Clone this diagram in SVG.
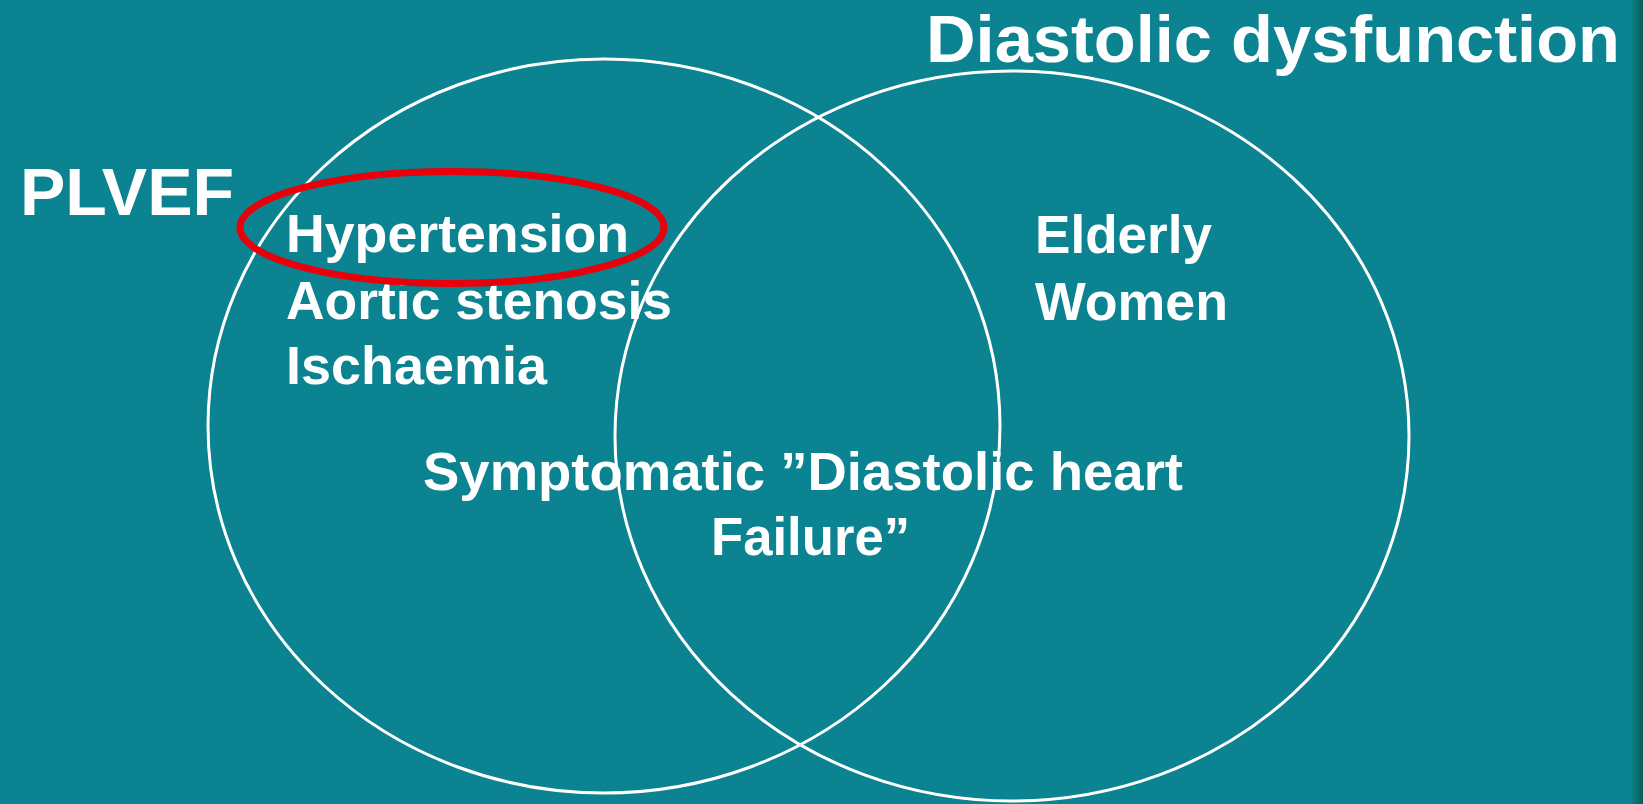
<svg xmlns="http://www.w3.org/2000/svg" width="1643" height="804" viewBox="0 0 1643 804">
<defs>
<pattern id="dither" width="8" height="8" patternUnits="userSpaceOnUse">
<rect width="8" height="8" fill="#07878a"/>
<path d="M0 0 L4 4 L0 8 M8 0 L4 4 L8 8" stroke="#1678a6" stroke-width="1.2" fill="none" opacity="0.7"/>
</pattern>
<linearGradient id="edge" x1="0" x2="1" y1="0" y2="0">
<stop offset="0" stop-color="#0a7f80"/>
<stop offset="1" stop-color="#0a5a5c"/>
</linearGradient>
</defs>
<style>
.bg{fill:url(#dither)}
.set{fill:none;stroke:#ffffff;stroke-width:3}
.mark{fill:none;stroke:#e8000a;stroke-width:7}
.t{font-family:"Liberation Sans",Arial,Helvetica,sans-serif;font-weight:bold;fill:#ffffff}
.title{font-size:66px}
.item{font-size:54px}
</style>
<rect class="bg" x="0" y="0" width="1643" height="804"/>
<rect x="1632" y="0" width="11" height="804" fill="url(#edge)"/>
<g id="set-plvef">
<ellipse class="set" cx="604" cy="426" rx="396" ry="367"/>
<text class="t title" x="20" y="215" textLength="214" lengthAdjust="spacingAndGlyphs">PLVEF</text>
</g>
<g id="set-diastolic">
<ellipse class="set" cx="1012" cy="436" rx="397" ry="365"/>
<text class="t title" x="926" y="62" textLength="694" lengthAdjust="spacingAndGlyphs">Diastolic dysfunction</text>
</g>
<g id="plvef-items">
<text class="t item" x="286" y="252" textLength="343" lengthAdjust="spacingAndGlyphs">Hypertension</text>
<text class="t item" x="286" y="319" textLength="386" lengthAdjust="spacingAndGlyphs">Aortic stenosis</text>
<text class="t item" x="286" y="384" textLength="261" lengthAdjust="spacingAndGlyphs">Ischaemia</text>
</g>
<g id="diastolic-items">
<text class="t item" x="1035" y="253" textLength="177" lengthAdjust="spacingAndGlyphs">Elderly</text>
<text class="t item" x="1035" y="320" textLength="193" lengthAdjust="spacingAndGlyphs">Women</text>
</g>
<g id="overlap">
<text class="t item" x="423" y="490" textLength="760" lengthAdjust="spacingAndGlyphs">Symptomatic ”Diastolic heart</text>
<text class="t item" x="711" y="555" textLength="199" lengthAdjust="spacingAndGlyphs">Failure”</text>
</g>
<g id="highlight">
<ellipse class="mark" cx="452" cy="227.5" rx="212" ry="56"/>
</g>
<g id="connectors"></g>
</svg>
